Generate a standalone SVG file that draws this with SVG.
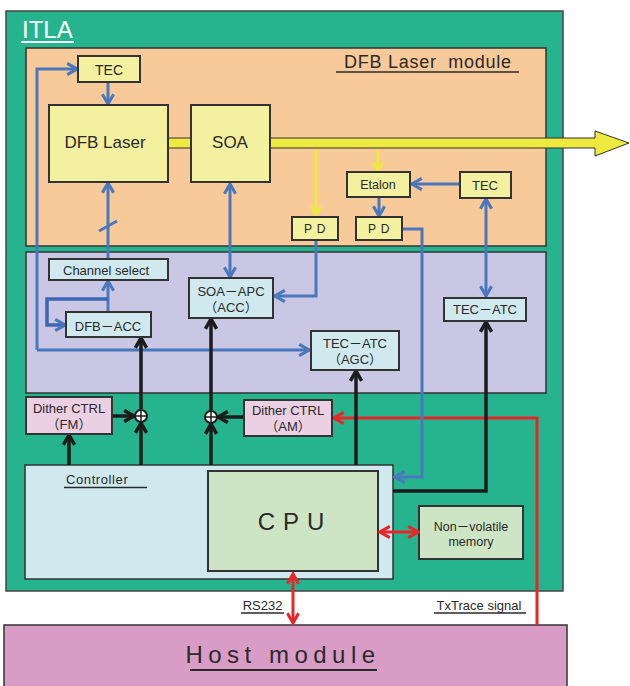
<svg xmlns="http://www.w3.org/2000/svg" width="630" height="686" viewBox="0 0 630 686">
<defs>
<style>
.t{font-family:"Liberation Sans","Noto Sans CJK JP",sans-serif;fill:#2a2a2a;}
.box{stroke:#333;stroke-width:2;}
.yel{fill:#f3f0a0;}
.lb{fill:#cfe9ef;}
.pk{fill:#ebcfe3;}
.gr{fill:#cde5c4;}
.bl{fill:none;stroke:#4a78bd;stroke-width:3;}
.bk{fill:none;stroke:#1c1c1c;stroke-width:3.5;}
.rd{fill:none;stroke:#e8262a;stroke-width:3;}
.yl{fill:none;stroke:#ede93e;stroke-width:3;}
.ul{stroke:#2a2a2a;stroke-width:1.5;}
</style>
<marker id="mb" viewBox="0 0 10 10" refX="8.5" refY="5" markerWidth="14" markerHeight="14" markerUnits="userSpaceOnUse" orient="auto-start-reverse"><path d="M1.5,1 L8.5,5 L1.5,9" fill="none" stroke="#4a78bd" stroke-width="2.2"/></marker>
<marker id="mk" viewBox="0 0 10 10" refX="8.5" refY="5" markerWidth="14" markerHeight="14" markerUnits="userSpaceOnUse" orient="auto-start-reverse"><path d="M1.5,1 L8.5,5 L1.5,9" fill="none" stroke="#1c1c1c" stroke-width="2.5"/></marker>
<marker id="mr" viewBox="0 0 10 10" refX="8.5" refY="5" markerWidth="14" markerHeight="14" markerUnits="userSpaceOnUse" orient="auto-start-reverse"><path d="M1.5,1 L8.5,5 L1.5,9" fill="none" stroke="#e8262a" stroke-width="2.2"/></marker>
<marker id="my" viewBox="0 0 10 10" refX="8.5" refY="5" markerWidth="12" markerHeight="12" markerUnits="userSpaceOnUse" orient="auto"><path d="M1.5,1 L8.5,5 L1.5,9" fill="none" stroke="#ede93e" stroke-width="2.4"/></marker>
</defs>

<g id="itla">
<rect x="6" y="11" width="557" height="580" fill="#26b48f" stroke="#444" stroke-width="1.5"/>
<text class="t" x="22" y="38" font-size="24" style="fill:#fff">ITLA</text>
<line x1="21" y1="42" x2="74" y2="42" stroke="#fff" stroke-width="2"/>
</g>

<g id="dfb-module">
<rect x="26" y="48" width="520" height="198" fill="#f8c999" stroke="#333" stroke-width="1.5"/>
<text class="t" x="344" y="68" font-size="18" textLength="167" xml:space="preserve">DFB Laser  module</text>
<line class="ul" x1="336" y1="72" x2="519" y2="72"/>
</g>

<g id="ctrl-panel">
<rect x="26" y="252" width="520" height="141" fill="#c9c7e3" stroke="#333" stroke-width="1.5"/>
</g>

<g id="host">
<rect x="4" y="625" width="563" height="70" fill="#d89cc6" stroke="#333" stroke-width="1.5"/>
<text class="t" x="283" y="663" font-size="24" text-anchor="middle" letter-spacing="5.5">Host module</text>
<line x1="190" y1="670" x2="377" y2="670" stroke="#2a2a2a" stroke-width="2"/>
</g>

<g id="controller">
<rect x="25" y="465" width="368" height="114" class="lb" stroke="#333" stroke-width="1.5"/>
<text class="t" x="66" y="484" font-size="13" letter-spacing="0.6">Controller</text>
<line class="ul" x1="64" y1="487.5" x2="147" y2="487.5"/>
</g>

<g id="cpu">
<rect x="208" y="471" width="170" height="100" class="gr box"/>
<text class="t" x="295" y="530" font-size="24" text-anchor="middle" letter-spacing="8">CPU</text>
</g>

<g id="memory">
<rect x="419" y="506" width="104" height="53" class="gr box"/>
<text class="t" x="471" y="531" font-size="12.5" text-anchor="middle">Non－volatile</text>
<text class="t" x="471" y="546" font-size="12.5" text-anchor="middle">memory</text>
</g>

<g id="connectors">
<!-- yellow beam -->
<path d="M168,138 H191 V148 H168 Z" fill="#ede93e" stroke="#333" stroke-width="1"/>
<path d="M270,138 H595 V131 L629,143 L595,156 V148 H270 Z" fill="#ede93e" stroke="#333" stroke-width="1"/>
<line class="yl" x1="316" y1="149" x2="316" y2="215" marker-end="url(#my)"/>
<line class="yl" x1="378" y1="149" x2="378" y2="171" marker-end="url(#my)"/>

<!-- blue -->
<polyline class="bl" points="37,350 37,69 77,69" marker-end="url(#mb)"/>
<polyline class="bl" points="37,350 309,350" marker-end="url(#mb)"/>
<line class="bl" x1="108" y1="82" x2="108" y2="104" marker-end="url(#mb)"/>
<line class="bl" x1="108" y1="259" x2="108" y2="183" marker-end="url(#mb)"/>
<line x1="99" y1="231" x2="117" y2="221" stroke="#4a78bd" stroke-width="3"/>
<line class="bl" x1="108" y1="312" x2="108" y2="281" marker-end="url(#mb)"/>
<polyline points="108,299 47,299 47,325 65,325" fill="none" stroke="#3d66b4" stroke-width="3.5" marker-end="url(#mb)"/>
<line class="bl" x1="230" y1="184" x2="230" y2="277" marker-start="url(#mb)" marker-end="url(#mb)"/>
<polyline class="bl" points="316,240 316,296 275,296" marker-end="url(#mb)"/>
<line class="bl" x1="379" y1="197" x2="379" y2="216" marker-end="url(#mb)"/>
<line class="bl" x1="460" y1="184" x2="412" y2="184" marker-end="url(#mb)"/>
<line class="bl" x1="486" y1="199" x2="486" y2="296" marker-start="url(#mb)" marker-end="url(#mb)"/>

<!-- red -->
<polyline class="rd" points="537,625 537,418 334,418" marker-end="url(#mr)"/>
<line class="rd" x1="380" y1="532" x2="418" y2="532" marker-start="url(#mr)" marker-end="url(#mr)"/>
<line class="rd" x1="293" y1="574" x2="293" y2="623" marker-start="url(#mr)" marker-end="url(#mr)"/>

<!-- blue over red -->
<polyline class="bl" points="402,229 422,229 422,477 395,477" marker-end="url(#mb)"/>

<!-- black -->
<line class="bk" x1="69" y1="465" x2="69" y2="435" marker-end="url(#mk)"/>
<line class="bk" x1="141" y1="409" x2="141" y2="338" marker-end="url(#mk)"/>
<line class="bk" x1="141" y1="465" x2="141" y2="423" marker-end="url(#mk)"/>
<line class="bk" x1="112" y1="416" x2="134" y2="416" marker-end="url(#mk)"/>
<line class="bk" x1="211" y1="410" x2="211" y2="319" marker-end="url(#mk)"/>
<line class="bk" x1="211" y1="465" x2="211" y2="424" marker-end="url(#mk)"/>
<line class="bk" x1="244" y1="417" x2="218" y2="417" marker-end="url(#mk)"/>
<line class="bk" x1="356" y1="465" x2="356" y2="371" marker-end="url(#mk)"/>
<polyline class="bk" points="393,491 486,491 486,322" marker-end="url(#mk)"/>
<circle cx="141" cy="416" r="6" fill="#fff" stroke="#1c1c1c" stroke-width="2"/>
<path d="M135,416 H147 M141,410 V422" stroke="#1c1c1c" stroke-width="1.5"/>
<circle cx="211" cy="417" r="6" fill="#fff" stroke="#1c1c1c" stroke-width="2"/>
<path d="M205,417 H217 M211,411 V423" stroke="#1c1c1c" stroke-width="1.5"/>

<!-- labels -->
<text class="t" x="262.5" y="610" font-size="13" text-anchor="middle">RS232</text>
<line class="ul" x1="241" y1="613" x2="284" y2="613"/>
<text class="t" x="479" y="610" font-size="13" text-anchor="middle">TxTrace signal</text>
<line class="ul" x1="434" y1="613" x2="526" y2="613"/>
</g>

<g id="tec1">
<rect x="78" y="56" width="62" height="26" class="yel box"/>
<text class="t" x="109" y="75" font-size="14" text-anchor="middle">TEC</text>
</g>
<g id="dfb-laser">
<rect x="49" y="105" width="119" height="77" class="yel box"/>
<text class="t" x="105" y="148" font-size="17" text-anchor="middle">DFB Laser</text>
</g>
<g id="soa">
<rect x="191" y="105" width="79" height="77" class="yel box"/>
<text class="t" x="230" y="148" font-size="17" text-anchor="middle">SOA</text>
</g>
<g id="etalon">
<rect x="347" y="172" width="63" height="25" class="yel box"/>
<text class="t" x="378" y="189" font-size="12.5" text-anchor="middle">Etalon</text>
</g>
<g id="tec2">
<rect x="460" y="172" width="51" height="26" class="yel box"/>
<text class="t" x="485" y="190" font-size="13" text-anchor="middle">TEC</text>
</g>
<g id="pd1">
<rect x="292" y="217" width="46" height="23" class="yel box"/>
<text class="t" x="315" y="233" font-size="12" text-anchor="middle" letter-spacing="0.8">P D</text>
</g>
<g id="pd2">
<rect x="356" y="217" width="46" height="23" class="yel box"/>
<text class="t" x="379" y="233" font-size="12" text-anchor="middle" letter-spacing="0.8">P D</text>
</g>
<g id="channel-select">
<rect x="49" y="259" width="119" height="21" class="lb box"/>
<text class="t" x="106" y="275" font-size="13" text-anchor="middle">Channel select</text>
</g>
<g id="dfb-acc">
<rect x="66" y="312" width="85" height="25" class="lb box"/>
<text class="t" x="108" y="331" font-size="13" text-anchor="middle">DFB－ACC</text>
</g>
<g id="soa-apc">
<rect x="189" y="278" width="84" height="40" class="lb box"/>
<text class="t" x="231" y="296" font-size="13" text-anchor="middle">SOA－APC</text>
<text class="t" x="231" y="312" font-size="13" text-anchor="middle">（ACC）</text>
</g>
<g id="tec-atc-agc">
<rect x="311" y="331" width="88" height="39" class="lb box"/>
<text class="t" x="355" y="348" font-size="13" text-anchor="middle">TEC－ATC</text>
<text class="t" x="355" y="364" font-size="13" text-anchor="middle">（AGC）</text>
</g>
<g id="tec-atc">
<rect x="444" y="298" width="82" height="23" class="lb box"/>
<text class="t" x="485" y="314" font-size="13" text-anchor="middle">TEC－ATC</text>
</g>
<g id="dither-fm">
<rect x="26" y="397" width="86" height="37" class="pk box"/>
<text class="t" x="69" y="413" font-size="13" text-anchor="middle">Dither CTRL</text>
<text class="t" x="69" y="429" font-size="13" text-anchor="middle">（FM）</text>
</g>
<g id="dither-am">
<rect x="244" y="400" width="88" height="36" class="pk box"/>
<text class="t" x="288" y="415" font-size="13" text-anchor="middle">Dither CTRL</text>
<text class="t" x="288" y="431" font-size="13" text-anchor="middle">（AM）</text>
</g>
</svg>
